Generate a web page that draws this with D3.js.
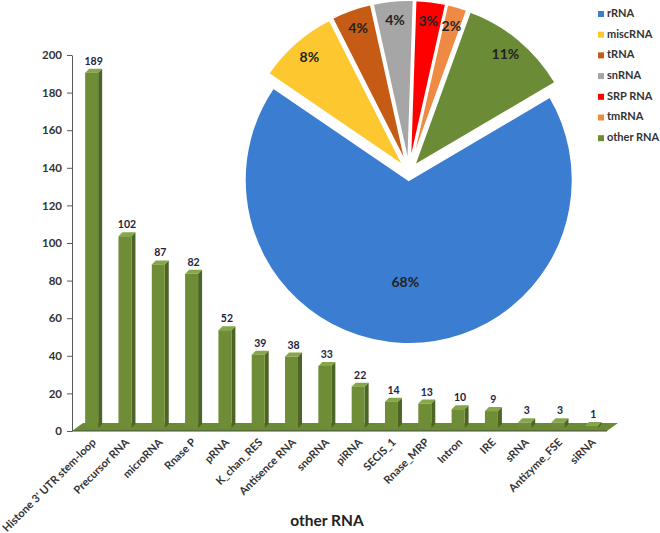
<!DOCTYPE html>
<html>
  <head>
    <meta charset="utf-8">
    <script src="https://d3js.org/d3.v7.min.js"></script>
    <title></title>
    <style>
    body {
      margin: 0;
      background-color: #fff;
    }
    svg {
      display: block;
      font-family: Lato, 'Open Sans', sans-serif;
      font-weight: bold;
    }
    </style>
  </head>
  <body>
    <script type="text/javascript">
      // bar chart data (other RNA breakdown)
      let categories = ["Histone 3' UTR stem-loop", 'Precursor RNA', 'microRNA', 'Rnase P', 'pRNA',
                        'K_chan_RES', 'Antisence RNA', 'snoRNA', 'piRNA', 'SECIS_1', 'Rnase_MRP',
                        'Intron', 'IRE', 'sRNA', 'Antizyme_FSE', 'siRNA']
      let counts = [189, 102, 87, 82, 52, 39, 38, 33, 22, 14, 13, 10, 9, 3, 3, 1]
      let yTicks = [0, 20, 40, 60, 80, 100, 120, 140, 160, 180, 200]

      // pie chart data
      let pieNames = ['rRNA', 'miscRNA', 'tRNA', 'snRNA', 'SRP RNA', 'tmRNA', 'other RNA']
      let piePercents = [68, 8, 4, 4, 3, 2, 11]
      let pieColors = ['#3b7dd0', '#fdc82f', '#c55b15', '#a6a6a6', '#ff0000', '#ef8a44', '#6b8b36']

      let w = 660
      let h = 533
      let svg = d3.select('body')
                  .append('svg')
                  .attr('width', w)
                  .attr('height', h)

      let xScale = d3.scaleBand()
                     .domain(categories)
                     .range([75, 608])
                     .paddingInner(0.61)
                     .paddingOuter(0.305)
      let yScale = d3.scaleLinear()
                     .domain([0, 200])
                     .range([431, 55])

      // floor of the 3d chart
      let floorDx = 11, floorDy = -8
      let y0 = yScale(0)
      svg.append('polygon')
         .attr('points', [[72, y0], [607, y0], [607 + floorDx, y0 + floorDy], [72 + floorDx, y0 + floorDy]].join(' '))
         .style('fill', '#6b8a34')
      svg.append('line')
         .attr('x1', 72).attr('x2', 607)
         .attr('y1', y0).attr('y2', y0)
         .style('stroke', '#4a4a4a')

      // y axis
      let yAxis = svg.append('g')
                     .attr('transform', 'translate(72, 0)')
                     .call(d3.axisLeft(yScale).tickValues(yTicks).tickSize(5).tickSizeOuter(0).tickPadding(5))
      yAxis.select('.domain').style('stroke', '#5a5a5a')
      yAxis.selectAll('.tick line').style('stroke', '#5a5a5a')
      yAxis.selectAll('text')
           .style('font-family', 'Lato, sans-serif')
           .style('font-weight', 'bold')
           .style('font-size', '11.5px')
           .style('fill', '#333')

      // 3d bars
      let dx = 4, dy = -4
      let base = 428
      let bars = svg.selectAll('.bar')
                    .data(categories)
                    .enter()
                    .append('g')
                    .attr('class', 'bar')
      bars.each(function(d, i) {
        let g = d3.select(this)
        let x = xScale(d)
        let bw = xScale.bandwidth()
        let top = Math.min(yScale(counts[i]) - 3, base - 1)
        g.append('polygon')
         .attr('points', [[x + bw, base], [x + bw + dx, base + dy], [x + bw + dx, top + dy], [x + bw, top]].join(' '))
         .style('fill', '#4c6424')
        g.append('polygon')
         .attr('points', [[x, top], [x + dx, top + dy], [x + bw + dx, top + dy], [x + bw, top]].join(' '))
         .style('fill', '#87a648')
        g.append('rect')
         .attr('x', x)
         .attr('y', top)
         .attr('width', bw)
         .attr('height', base - top)
         .style('fill', '#6f8d36')
      })

      // value labels
      svg.selectAll('.val')
         .data(counts)
         .enter()
         .append('text')
         .attr('class', 'val')
         .attr('x', (d, i) => xScale(categories[i]) + xScale.bandwidth() / 2 + 2)
         .attr('y', d => yScale(d) - 11)
         .attr('text-anchor', 'middle')
         .style('font-size', '10.5px')
         .style('fill', '#1e2440')
         .text(d => d)

      // category labels
      svg.selectAll('.cat')
         .data(categories)
         .enter()
         .append('text')
         .attr('class', 'cat')
         .attr('transform', d => `translate(${xScale(d) + xScale.bandwidth() / 2 + 5}, 443) rotate(-45)`)
         .attr('text-anchor', 'end')
         .style('font-size', '11px')
         .style('fill', '#333')
         .text(d => d)

      svg.append('text')
         .attr('x', 327)
         .attr('y', 526)
         .attr('text-anchor', 'middle')
         .style('font-size', '15.5px')
         .style('fill', '#222')
         .text('other RNA')

      // exploded pie
      let cx = 409, cy = 172, r = 164, explode = 8
      let start = 59.5 * Math.PI / 180
      let pie = d3.pie().sort(null).startAngle(start).endAngle(start + 2 * Math.PI)
      let arc = d3.arc().innerRadius(0).outerRadius(r)
      let slices = pie(piePercents)

      let pieG = svg.append('g')
      pieG.selectAll('path')
          .data(slices)
          .enter()
          .append('path')
          .attr('transform', d => {
            let m = (d.startAngle + d.endAngle) / 2
            return `translate(${cx + Math.sin(m) * explode}, ${cy - Math.cos(m) * explode})`
          })
          .attr('d', arc)
          .style('fill', (d, i) => pieColors[i])
          .style('stroke', '#fff')
          .style('stroke-width', 2)

      pieG.selectAll('text')
          .data(slices)
          .enter()
          .append('text')
          .attr('x', (d, i) => {
            let m = (d.startAngle + d.endAngle) / 2
            let lr = i === 0 ? 103 : 143
            return cx + Math.sin(m) * (explode + lr)
          })
          .attr('y', (d, i) => {
            let m = (d.startAngle + d.endAngle) / 2
            let lr = i === 0 ? 103 : 143
            return cy - Math.cos(m) * (explode + lr)
          })
          .attr('text-anchor', 'middle')
          .attr('dominant-baseline', 'middle')
          .style('font-size', '14px')
          .style('fill', '#222')
          .text(d => d.data + '%')

      // legend
      let legend = svg.selectAll('.legend')
                      .data(pieNames)
                      .enter()
                      .append('g')
                      .attr('class', 'legend')
                      .attr('transform', (d, i) => `translate(598, ${14 + i * 20.7})`)
      legend.append('rect')
            .attr('x', 0)
            .attr('y', -3)
            .attr('width', 6)
            .attr('height', 6)
            .style('fill', (d, i) => pieColors[i])
      legend.append('text')
            .attr('x', 9)
            .attr('y', 0)
            .attr('dominant-baseline', 'middle')
            .style('font-size', '11px')
            .style('fill', '#333')
            .text(d => d)
    </script>
  </body>
</html>
